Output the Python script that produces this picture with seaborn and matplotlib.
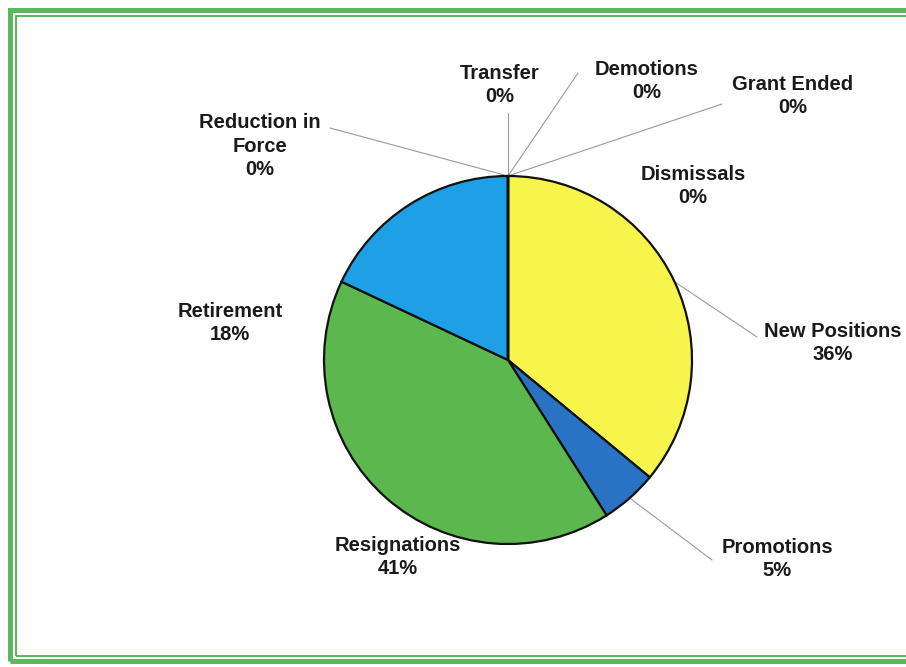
import numpy as np
import matplotlib
matplotlib.use("Agg")
import matplotlib.pyplot as plt
from matplotlib.patches import Rectangle
import seaborn as sns

# DATA
######################################################
# slices clockwise from 12 o'clock
categories = ["New Positions", "Promotions", "Resignations", "Retirement",
              "Reduction in\nForce", "Transfer", "Demotions", "Grant Ended", "Dismissals"]
percent = [36, 5, 41, 18, 0, 0, 0, 0, 0]
slice_colors = ["#f7f54c", "#2a72c4", "#5cb84e", "#1e9fe6",
                "#ffffff", "#ffffff", "#ffffff", "#ffffff", "#ffffff"]

# label anchor (pixel coords of text centre) and where the leader line ends
label_pos = {
    "New Positions": (833, 343), "Promotions": (777, 559), "Resignations": (398, 557),
    "Retirement": (230, 323), "Reduction in\nForce": (260, 146), "Transfer": (500, 85),
    "Demotions": (647, 81), "Grant Ended": (793, 96), "Dismissals": (693, 186),
}
leader_end = {
    "New Positions": (757, 337), "Promotions": (712, 560),
    "Reduction in\nForce": (330, 128), "Transfer": (508, 113),
    "Demotions": (578, 73), "Grant Ended": (722, 104),
}

W, H = 906, 667
def px(x, y):
    # pixel coords (y down) -> data coords (y up)
    return x, H - y

# PLOT
######################################################
sns.set_theme(style="white")
plt.rcParams['font.family'] = ['Liberation Sans', 'DejaVu Sans']

fig = plt.figure(figsize=(W / 100, H / 100), dpi=100)
ax = fig.add_axes([0, 0, 1, 1])

cx, cy = px(508, 360)
R = 184
wedges, _ = ax.pie(percent, colors=slice_colors, startangle=90, counterclock=False,
                   center=(cx, cy), radius=R,
                   wedgeprops=dict(edgecolor="#111111", linewidth=1.6))
ax.set_xlim(0, W)
ax.set_ylim(0, H)
ax.set_aspect("equal")
ax.axis("off")

for w, name, val in zip(wedges, categories, percent):
    txt = f"{name}\n{val}%"
    tx, ty = px(*label_pos[name])
    ax.text(tx, ty, txt, ha="center", va="center", fontsize=14.5, fontweight="bold",
            color="#1a1a1a", linespacing=1.32)
    if name in leader_end:
        mid = np.deg2rad((w.theta1 + w.theta2) / 2)
        sx, sy = cx + R * np.cos(mid), cy + R * np.sin(mid)
        ex, ey = px(*leader_end[name])
        ax.plot([sx, ex], [sy, ey], color="#9a9a9a", lw=0.8, zorder=0)

# double green frame
ax.add_patch(Rectangle(px(10, 661), 920, 651, fill=False, edgecolor="#5cb85c",
                       lw=3.6, clip_on=False))
ax.add_patch(Rectangle(px(16, 656), 920, 640, fill=False, edgecolor="#4fae4f",
                       lw=1.3, clip_on=False))

fig.savefig("out.png", dpi=100)
